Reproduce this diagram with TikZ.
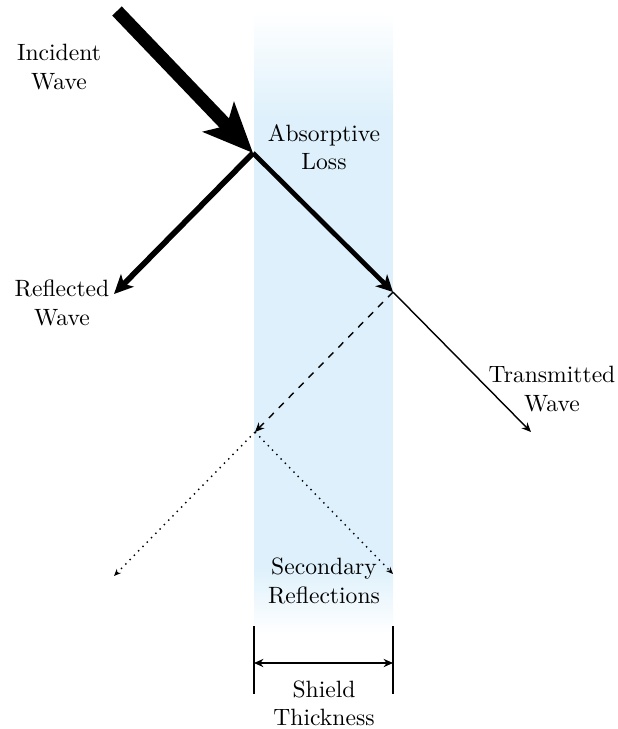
\documentclass[tikz,border=0pt]{standalone}
\usepackage{tikz}
\usetikzlibrary{arrows.meta, positioning, calc}
\definecolor{shieldBlue}{HTML}{DDF0FB}

\begin{document}
\begin{tikzpicture}[x=0.424pt, y=-0.424pt, font=\normalsize,
        lbl/.style={align=center, inner sep=0pt},
        inc/.style={line width=5.6pt, -{Stealth[length=21pt, width=18pt, inset=5pt]}},
        refl/.style={line width=2.4pt, -{Stealth[length=8pt, width=7.5pt, inset=2pt]}},
        absb/.style={line width=2pt, -{Stealth[length=7pt, width=7pt, inset=2pt]}},
        trans/.style={line width=0.6pt, -{Stealth[length=4pt, width=3.5pt]}},
        sec/.style={line width=0.6pt, dashed, -{Stealth[length=4pt, width=3.5pt]}},
        tert/.style={line width=0.6pt, dotted, -{Stealth[length=3pt, width=2.5pt]}},
        dim/.style={line width=0.5pt, {Stealth[length=4pt, width=3.5pt]}-{Stealth[length=4pt, width=3.5pt]}}]
    \useasboundingbox (0,0) rectangle (618,729);
    % shield
    \shade[top color=white, bottom color=shieldBlue] (254,12) rectangle (393,120);
    \fill[shieldBlue] (254,119) rectangle (393,566);
    \shade[top color=shieldBlue, bottom color=white] (254,565) rectangle (393,634);
    % points
    \coordinate (src) at (117,11);
    \coordinate (hit) at (253,153);
    \coordinate (refTip) at (114,294);
    \coordinate (exit) at (393,292);
    \coordinate (trTip) at (531,432);
    \coordinate (back) at (255,432);
    \coordinate (sLeft) at (114,576);
    \coordinate (sRight) at (393,574);
    \coordinate (dimL) at (254,663);
    \coordinate (dimR) at (393,663);
    % waves
    \draw[inc] (src) -- (hit);
    \draw[refl] (hit) -- (refTip);
    \draw[absb] (hit) -- (exit);
    \draw[trans] (exit) -- (trTip);
    \draw[sec] (exit) -- (back);
    \draw[tert] (back) -- (sLeft);
    \draw[tert] (back) -- (sRight);
    % thickness
    \draw[line width=0.5pt] (254,626) -- (254,694);
    \draw[line width=0.5pt] (393,626) -- (393,694);
    \draw[dim] (dimL) -- (dimR);
    % labels
    \node[lbl] (incL) at (59,67) {Incident\\Wave};
    \node[lbl] (absL) at (324,147) {Absorptive\\Loss};
    \node[lbl] (refL) at (62,303) {Reflected\\Wave};
    \node[lbl] (trL) at (552,389) {Transmitted\\Wave};
    \node[lbl] (secL) at (324,581) {Secondary\\Reflections};
    \node[lbl] (thkL) at (324,703) {Shield\\Thickness};
\end{tikzpicture}
\end{document}
